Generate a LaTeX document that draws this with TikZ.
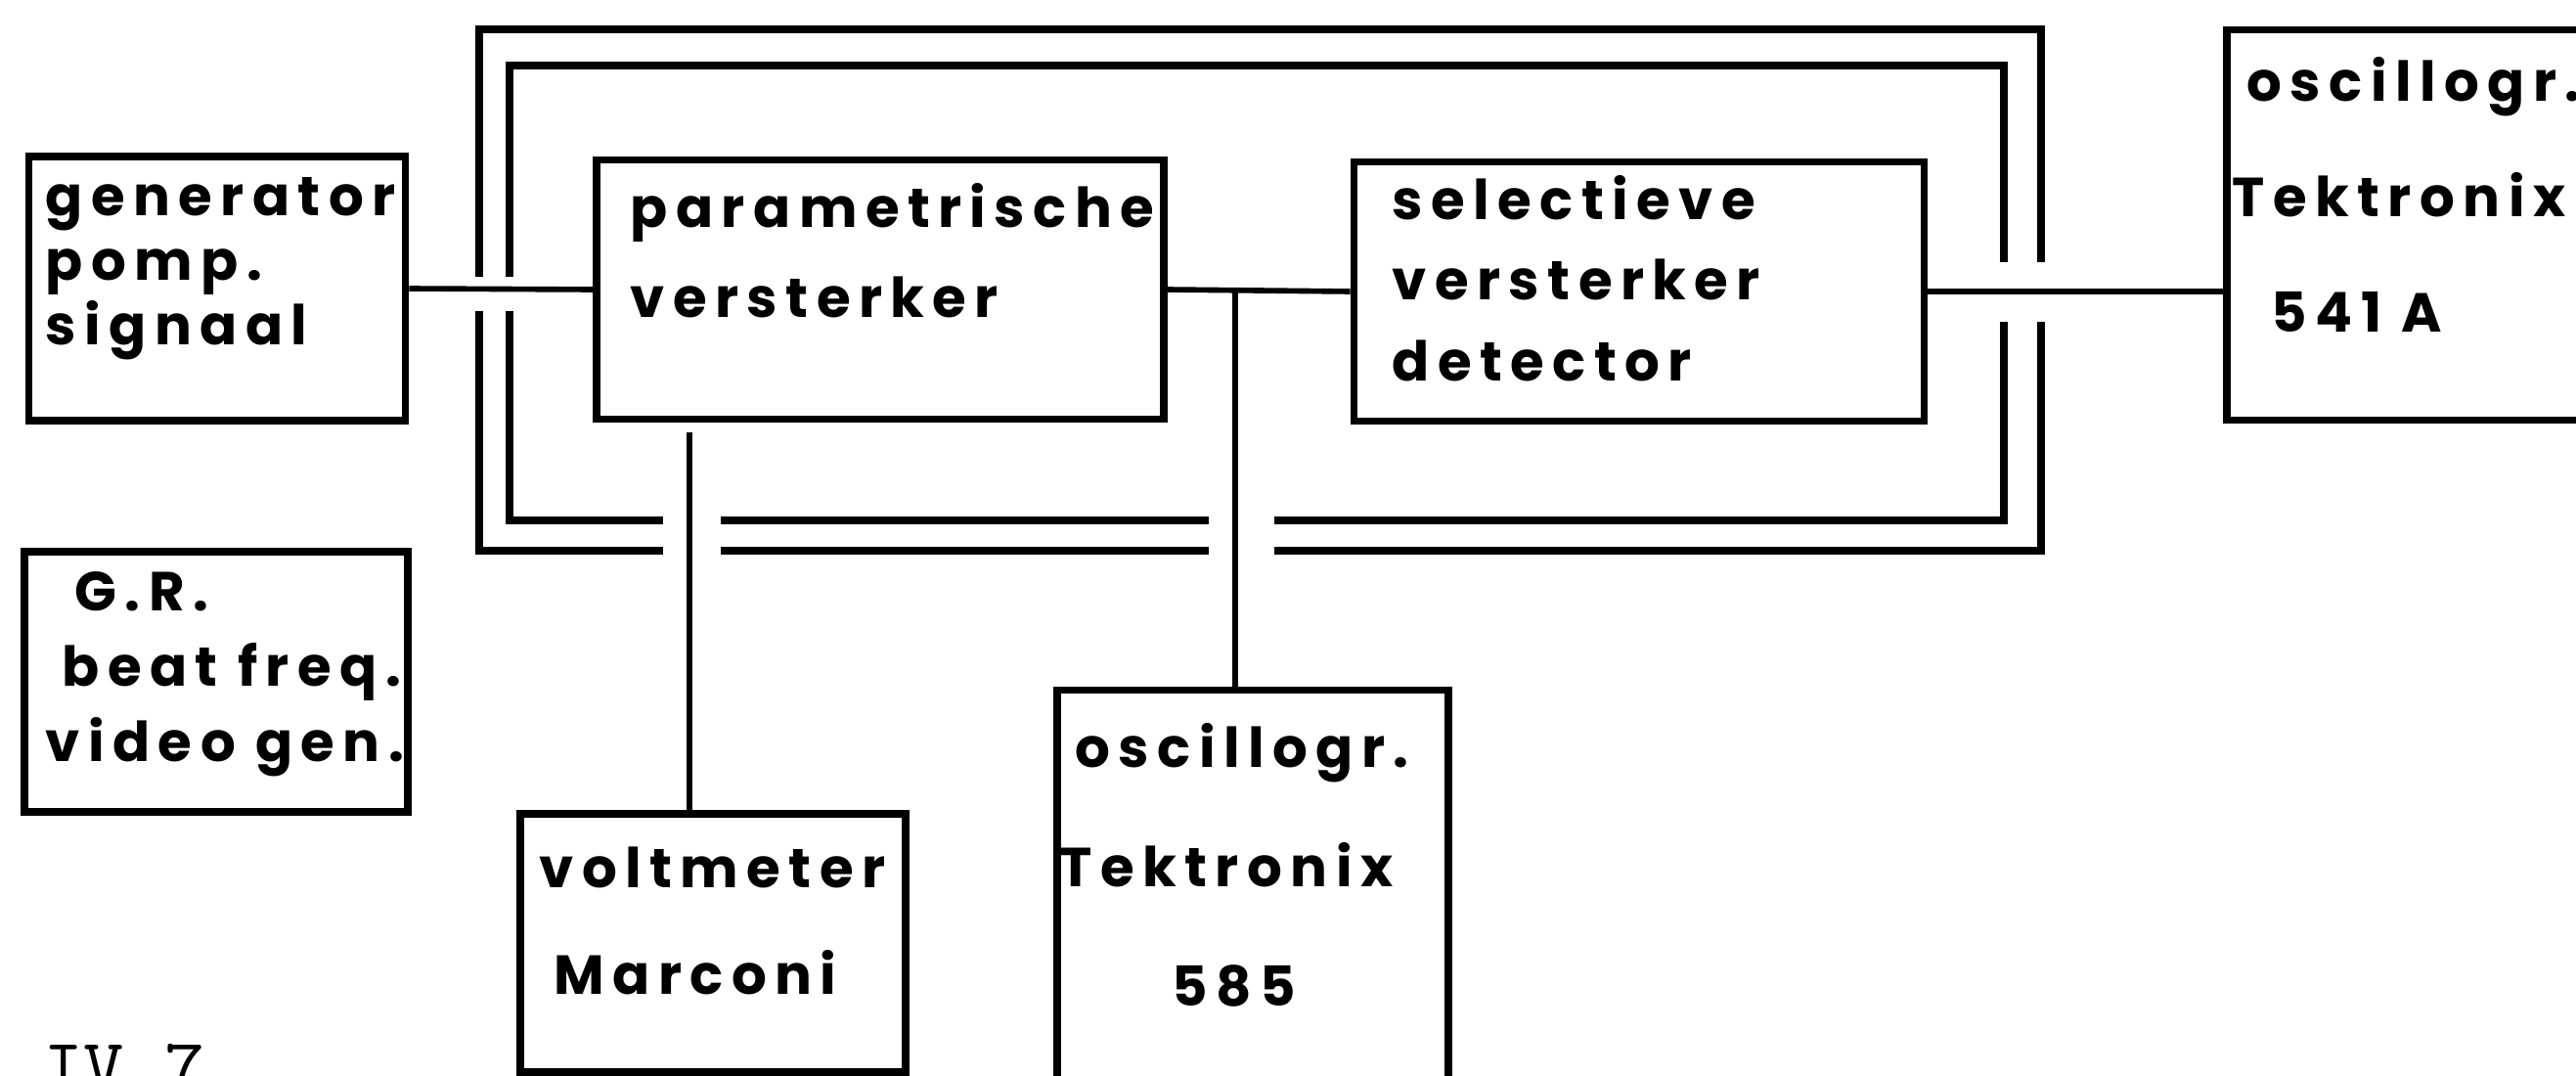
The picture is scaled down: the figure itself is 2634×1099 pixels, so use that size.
\documentclass[tikz,border=0pt]{standalone}
\usepackage{fontspec}
\newfontfamily\hand[LetterSpace=15]{Poppins}
\usetikzlibrary{calc}

\begin{document}
\begin{tikzpicture}[x=0.1mm, y=-0.1mm,
    unit/.style={rectangle, draw=black, line width=2.2pt, inner sep=0pt},
    lbl/.style={align=left, anchor=north west, inner sep=0pt, font=\hand\bfseries\fontsize{16pt}{#1}\selectfont},
    link/.style={line width=1.6pt},
    shield/.style={line width=2.2pt, line join=miter}
]
\useasboundingbox (0,0) rectangle (2634,1099);
\clip (0,0) rectangle (2634,1099);

% apparatus
\node[unit, minimum width=38.5mm, minimum height=27mm] (gen) at (222,295) {};
\node[unit, minimum width=58mm, minimum height=26.5mm] (param) at (900,296) {};
\node[unit, minimum width=58.3mm, minimum height=26.5mm] (sel) at (1676,298) {};
\node[unit, minimum width=50mm, minimum height=39.9mm] (osca) at (2527,230) {};
\node[unit, minimum width=39.2mm, minimum height=26.6mm] (gr) at (221,697) {};
\node[unit, minimum width=39.4mm, minimum height=26.4mm] (volt) at (729,964) {};
\node[unit, minimum width=40mm, minimum height=39.9mm] (oscb) at (1281,905) {};

% texts
\node[lbl=18.8pt] at (46,181) {generator\\pomp.\\signaal};
\node[lbl=26.2pt] at (644,187) {parametrische\\versterker};
\node[lbl=23.4pt] at (1423,179) {selectieve\\versterker\\detector};
\node[lbl=33.6pt] at (2282,58) {\hspace*{1.5mm}oscillogr.\\Tektronix\\\hspace*{4mm}541 A};
\node[lbl=21.9pt] at (46,584) {\hspace*{3mm}G.R.\\\hspace*{1.7mm}beat freq.\\video gen.};
\node[lbl=31pt] at (551,865) {voltmeter\\\hspace*{1.5mm}Marconi};
\node[lbl=34.7pt] at (1083,739) {\hspace*{1.6mm}oscillogr.\\Tektronix\\\hspace*{11.5mm}585};
\node[anchor=base west, inner sep=0pt, font=\ttfamily\fontsize{22.8pt}{24pt}\selectfont] (fig) at (44,1117) {IV.7};

% screening
\foreach \l/\t/\r/\b in {490/30/2087/563, 521/67/2049/532} {
  \draw[shield] (\l,318) -- (\l,\b) -- (678,\b);
  \draw[shield] (737,\b) -- (1236,\b);
  \draw[shield] (1303,\b) -- (\r,\b) -- (\r,329);
  \draw[shield] (\r,268) -- (\r,\t) -- (\l,\t) -- (\l,283);
}

% cables
\coordinate (vtap) at (705,442);
\coordinate (otap) at ($(param.east)!0.37!(sel.west)$);
\draw[link] (gen.east) -- (param.west);
\draw[link] (param.east) -- (sel.west);
\draw[link] (sel.east) -- (sel.east -| osca.west);
\draw[link] (vtap) -- (vtap |- volt.north);
\draw[link] (otap) -- (otap |- oscb.north);
\end{tikzpicture}
\end{document}
